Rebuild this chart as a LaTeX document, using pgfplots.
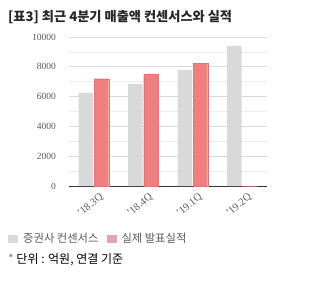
\documentclass[border=0pt]{standalone}
\usepackage{pgfplots}
\pgfplotsset{compat=1.18}
\usepackage{fontspec}
\setmainfont{Liberation Serif}
\newfontfamily\kr{Noto Sans CJK KR}
\definecolor{cgray}{HTML}{D9D9D9}
\definecolor{cred}{HTML}{F08080}
\definecolor{credleg}{HTML}{E0A8A8}
\definecolor{tgray}{HTML}{595959}
\begin{document}
\begin{tikzpicture}
\path[use as bounding box] (0pt,0pt) rectangle (325pt,-287pt);
\node[anchor=west,inner sep=0pt] at (8pt,-17pt) {\kr\bfseries\fontsize{13.2}{15}\selectfont\color{black!85}[표3] 최근 4분기 매출액 컨센서스와 실적};
\begin{axis}[
  at={(69pt,-186pt)}, anchor=south west,
  scale only axis, width=198pt, height=149pt,
  ymin=0, ymax=10000, xmin=-0.5, xmax=3.5,
  ytick={0,2000,...,10000}, minor ytick={1000,3000,...,9000},
  ymajorgrids, yminorgrids,
  major grid style={cgray, line width=0.8pt},
  minor grid style={black!7, line width=0.8pt},
  axis lines*=left,
  y axis line style={draw=none},
  x axis line style={draw=black!80, line width=1pt},
  major tick length=0pt, minor tick length=0pt,
  xtick=data,
  xticklabels={'18.3Q,'18.4Q,'19.1Q,'19.2Q},
  x tick label style={rotate=40, anchor=north east, inner sep=0pt, font=\fontsize{10.5}{12}\selectfont, text=tgray, yshift=-8pt, xshift=0pt},
  y tick label style={font=\fontsize{9.5}{11}\selectfont, text=tgray, inner sep=0pt, xshift=-13pt},
  /pgf/number format/assume math mode=true,
  scaled y ticks=false,
  yticklabel style={/pgf/number format/1000 sep={}},
  ybar=0pt, bar width=14.5pt,
  enlarge x limits=false,
  clip=false,
  legend style={at={(-0.308,-0.356)}, anchor=west, draw=none, fill=none, legend columns=2,
    inner sep=0pt,
    font=\kr\fontsize{11.3}{13}\selectfont, text=tgray,
    nodes={inner sep=1pt},
    /tikz/column 1/.style={column sep=4pt},
    /tikz/column 2/.style={column sep=7pt},
    /tikz/column 3/.style={column sep=4pt}},
  legend image code/.code={\fill[#1, draw=none] (0pt,-4pt) rectangle (10pt,4pt);},
]
\addplot[fill=cgray, draw=none, bar shift=-7.75pt] coordinates {(0,6250) (1,6850) (2,7800) (3,9400)};
\addlegendentry{증권사 컨센서스}
\addplot[fill=cred, draw=cred!92!black, line width=0.4pt, bar shift=7.75pt, legend image post style={fill=credleg}] coordinates {(0,7200) (1,7500) (2,8250) (3,0)};
\addlegendentry{실제 발표실적}
\end{axis}
\node[anchor=west,inner sep=0pt] at (8pt,-260pt) {\kr\fontsize{12}{14}\selectfont\color{black}{\color{black!50}*} 단위 : 억원, 연결 기준};
\end{tikzpicture}
\end{document}
